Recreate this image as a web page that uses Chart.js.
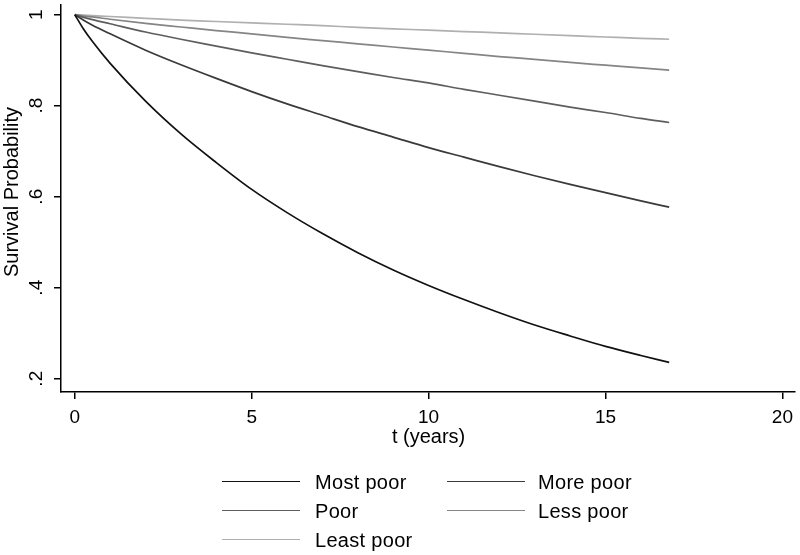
<!DOCTYPE html>
<html>
<head>
<meta charset="utf-8">
<script src="https://cdn.jsdelivr.net/npm/chart.js@4"></script>
<style>
  html, body { margin: 0; padding: 0; background: #fff; }
  #wrap { position: relative; width: 800px; height: 555px; }
  .item { position: absolute; font: 20px "Liberation Sans", Arial, sans-serif; color: #000; line-height: 22px; letter-spacing: 0.3px; }
  .swatch { position: absolute; width: 78px; height: 0; }
</style>
</head>
<body>
<div id="wrap">
  <canvas id="chart" width="800" height="555"></canvas>
</div>
<script>
// time points (years) and survival estimates
const years = [0, 0.25, 0.5, 1, 2, 3, 4, 5, 6, 7, 8, 9, 10, 11, 12, 13, 14, 15, 16, 16.8];
const mostPoor = [1, 0.968, 0.941, 0.893, 0.810, 0.738, 0.675, 0.616, 0.565, 0.519, 0.477, 0.439, 0.405, 0.374, 0.345, 0.318, 0.294, 0.271, 0.251, 0.236];
const morePoor = [1, 0.988, 0.977, 0.958, 0.922, 0.890, 0.860, 0.831, 0.804, 0.779, 0.754, 0.731, 0.708, 0.687, 0.666, 0.646, 0.627, 0.609, 0.591, 0.577];
const poor = [1, 0.994, 0.989, 0.980, 0.962, 0.946, 0.931, 0.916, 0.902, 0.888, 0.875, 0.862, 0.850, 0.836, 0.823, 0.810, 0.797, 0.785, 0.772, 0.763];
const lessPoor = [1, 0.997, 0.995, 0.990, 0.981, 0.973, 0.965, 0.958, 0.950, 0.943, 0.936, 0.929, 0.922, 0.915, 0.908, 0.902, 0.895, 0.889, 0.883, 0.878];
const leastPoor = [1, 0.999, 0.998, 0.996, 0.992, 0.988, 0.985, 0.982, 0.979, 0.976, 0.972, 0.969, 0.966, 0.963, 0.960, 0.957, 0.954, 0.951, 0.948, 0.946];

const seriesLabels = ['Most poor', 'More poor', 'Poor', 'Less poor', 'Least poor'];
const seriesColors = ['#111111', '#3a3a3a', '#5e5e5e', '#858585', '#b0b0b0'];
const xTicks = [0, 5, 10, 15, 20];
const yTicks = [0.2, 0.4, 0.6, 0.8, 1];

const FONT = '"Liberation Sans", Arial, sans-serif';
const allSeries = [mostPoor, morePoor, poor, lessPoor, leastPoor];

const datasets = allSeries.map((vals, i) => ({
  label: seriesLabels[i],
  data: vals.map((v, j) => ({ x: years[j], y: v })),
  borderColor: seriesColors[i],
  borderWidth: 1.7,
  pointRadius: 0,
  fill: false,
  cubicInterpolationMode: 'monotone',
}));

const fmtY = (v) => (v === 1 ? '1' : '.' + Math.round(v * 10));

// y tick labels and both axis titles, drawn rotated like the original
const axisText = {
  id: 'axisText',
  afterDraw(chart) {
    const { ctx, scales } = chart;
    const y = scales.y;
    const x = scales.x;
    ctx.save();
    ctx.fillStyle = '#000';
    ctx.textAlign = 'center';
    ctx.textBaseline = 'middle';
    ctx.font = '19px ' + FONT;
    yTicks.forEach((v) => {
      ctx.save();
      ctx.translate(37, y.getPixelForValue(v));
      ctx.rotate(-Math.PI / 2);
      ctx.fillText(fmtY(v), 0, 0);
      ctx.restore();
    });
    ctx.font = '20px ' + FONT;
    ctx.save();
    ctx.translate(12, 192);
    ctx.rotate(-Math.PI / 2);
    ctx.fillText('Survival Probability', 0, 0);
    ctx.restore();
    ctx.fillText('t (years)', x.getPixelForValue(10), 437);
    ctx.restore();
  },
};

new Chart(document.getElementById('chart'), {
  type: 'line',
  data: { datasets },
  plugins: [axisText],
  options: {
    responsive: false,
    animation: false,
    layout: { padding: { left: 54, right: 3, top: 5, bottom: 0 } },
    plugins: { legend: { display: false }, tooltip: { enabled: false } },
    scales: {
      x: {
        type: 'linear',
        min: -0.39,
        max: 20.35,
        afterBuildTicks: (s) => { s.ticks = xTicks.map((v) => ({ value: v })); },
        afterFit: (s) => { s.height = 163; },
        border: { display: true, color: '#000', width: 1.5 },
        grid: { drawOnChartArea: false, drawTicks: true, tickLength: 7, color: '#000', lineWidth: 1.5 },
        ticks: { color: '#000', padding: 7, font: { family: FONT, size: 19 }, maxRotation: 0, autoSkip: false },
      },
      y: {
        type: 'linear',
        min: 0.1708,
        max: 1.0213,
        afterBuildTicks: (s) => { s.ticks = yTicks.map((v) => ({ value: v })); },
        afterFit: (s) => { s.width = 7; },
        border: { display: true, color: '#000', width: 1.5 },
        grid: { drawOnChartArea: false, drawTicks: true, tickLength: 7, color: '#000', lineWidth: 1.5 },
        ticks: { display: false },
      },
    },
  },
});

// legend in two columns below the plot
const wrap = document.getElementById('wrap');
const colLine = [222, 447];
const colText = [315, 538];
const rowY = [482, 511, 540];
seriesLabels.forEach((name, i) => {
  const col = i % 2;
  const row = Math.floor(i / 2);
  const sw = document.createElement('div');
  sw.className = 'swatch';
  sw.style.left = colLine[col] + 'px';
  sw.style.top = (rowY[row] - 1) + 'px';
  sw.style.borderTop = '1.7px solid ' + seriesColors[i];
  wrap.appendChild(sw);
  const t = document.createElement('div');
  t.className = 'item';
  t.style.left = colText[col] + 'px';
  t.style.top = (rowY[row] - 11) + 'px';
  t.textContent = name;
  wrap.appendChild(t);
});
</script>
</body>
</html>
